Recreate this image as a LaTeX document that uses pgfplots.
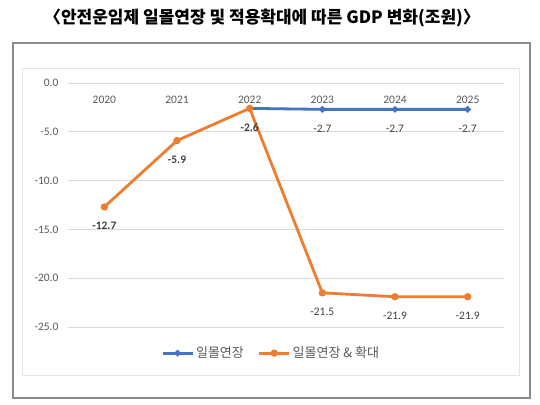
\documentclass[border=0pt]{standalone}
\usepackage{pgfplots}
\pgfplotsset{compat=1.18}
\usepackage{fontspec}
\setmainfont{Carlito}
\newfontfamily\kr{Noto Sans CJK KR}

\definecolor{cblue}{HTML}{4472C4}
\definecolor{corange}{HTML}{ED7D31}
\definecolor{cgrid}{HTML}{D9D9D9}
\definecolor{ctext}{HTML}{595959}
\definecolor{clabel}{HTML}{404040}

\begin{document}
\begin{tikzpicture}
  \path[use as bounding box] (0,0) rectangle (540pt,-404pt);
  \draw[black!45, line width=1.8pt] (13pt,-43pt) rectangle (530pt,-398pt);
  \draw[cgrid!70, line width=0.8pt] (22pt,-68pt) rectangle (519pt,-375pt);
  \node[font=\kr\bfseries\fontsize{17}{20}\selectfont] at (262pt,-18pt)
    {〈안전운임제 일몰연장 및 적용확대에 따른 GDP 변화(조원)〉};

  \begin{axis}[
      at={(68pt,-83pt)}, anchor=north west,
      scale only axis,
      width=436pt, height=244pt,
      xmin=-0.5, xmax=5.5,
      ymin=-25, ymax=0,
      axis line style={draw=none},
      major tick length=0pt,
      xtick={0,1,2,3,4,5},
      xticklabels={2020,2021,2022,2023,2024,2025},
      xticklabel pos=upper,
      xticklabel style={anchor=center, yshift=-17pt, text=ctext,
        font=\fontsize{11.5}{13}\selectfont},
      ytick={0,-5,-10,-15,-20,-25},
      yticklabel style={text=ctext, xshift=-6pt,
        font=\fontsize{11.5}{13}\selectfont},
      /pgf/number format/assume math mode=true,
      /pgf/number format/fixed,
      /pgf/number format/fixed zerofill,
      /pgf/number format/precision=1,
      ymajorgrids=true,
      grid style={cgrid, line width=0.8pt},
      point meta=explicit symbolic,
      nodes near coords={\pgfplotspointmeta},
      every node near coord/.append style={anchor=center, yshift=-19pt,
        text=clabel, font=\fontsize{11.5}{13}\selectfont},
      legend columns=2,
      legend style={at={(0.466,-0.107)}, anchor=center, draw=none, fill=none,
        font=\kr\fontsize{13}{15}\selectfont, text=ctext,
        /tikz/every even column/.append style={column sep=12pt}},
      legend image code/.code={
        \draw[#1, mark repeat=2, mark phase=2]
          plot coordinates {(0pt,0pt) (15pt,0pt) (30pt,0pt)};},
    ]

    \addplot[color=cblue, line width=2.8pt, mark=*,
      mark options={scale=0.8, fill=cblue, draw=cblue}]
      coordinates {
        (2,-2.6) [\relax]
        (3,-2.7) [-2.7]
        (4,-2.7) [-2.7]
        (5,-2.7) [-2.7]
      };
    \addlegendentry{일몰연장}

    \addplot[color=corange, line width=2.8pt, mark=*,
      mark options={scale=1.1, fill=corange, draw=corange}]
      coordinates {
        (0,-12.7) [\textbf{-12.7}]
        (1,-5.9)  [\textbf{-5.9}]
        (2,-2.6)  [\textbf{-2.6}]
        (3,-21.5) [-21.5]
        (4,-21.9) [-21.9]
        (5,-21.9) [-21.9]
      };
    \addlegendentry{일몰연장 \& 확대}

  \end{axis}
\end{tikzpicture}
\end{document}
